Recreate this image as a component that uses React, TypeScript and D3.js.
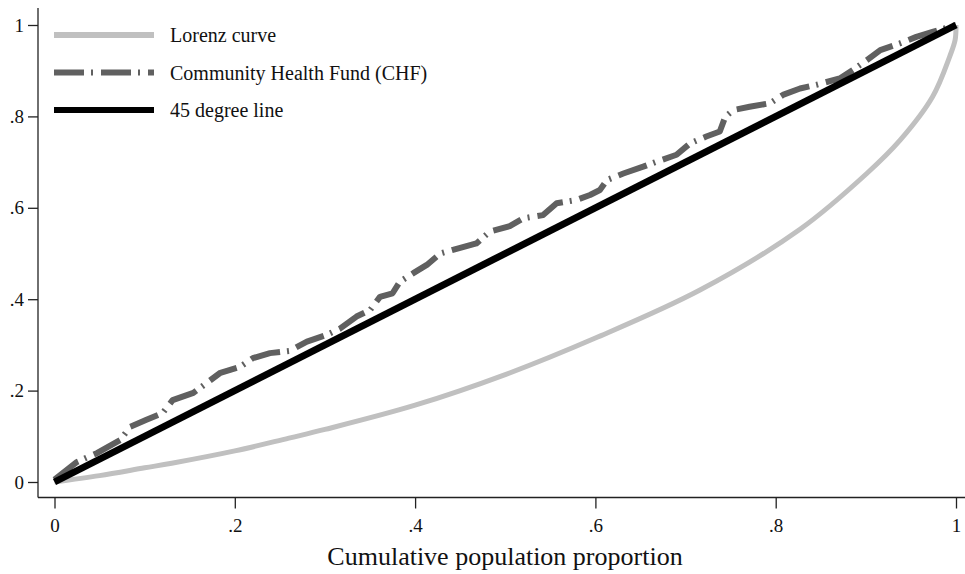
import { RefObject, useEffect, useRef } from "react";
import * as d3 from "d3";

const WIDTH = 965;
const HEIGHT = 574;

// Lorenz curve
const lorenzX = [0, 0.05, 0.1, 0.13, 0.2, 0.26, 0.3, 0.4, 0.5, 0.6, 0.716, 0.827, 0.901, 0.938, 0.974, 0.993, 0.999, 1];
const lorenzY = [0, 0.014, 0.031, 0.041, 0.068, 0.096, 0.115, 0.168, 0.235, 0.315, 0.42, 0.553, 0.675, 0.748, 0.843, 0.931, 0.967, 1];

// Community Health Fund concentration curve
const chfX = [
  0, 0.025, 0.047, 0.073, 0.084, 0.102, 0.12, 0.131, 0.154, 0.184, 0.206, 0.22, 0.239, 0.261, 0.28, 0.302,
  0.317, 0.335, 0.35, 0.361, 0.375, 0.383, 0.398, 0.413, 0.428, 0.442, 0.468, 0.483, 0.505, 0.52, 0.542,
  0.557, 0.579, 0.594, 0.605, 0.613, 0.631, 0.653, 0.668, 0.69, 0.705, 0.723, 0.738, 0.744, 0.753, 0.771,
  0.794, 0.808, 0.827, 0.845, 0.871, 0.886, 0.901, 0.916, 0.938, 0.956, 0.974, 1,
];
const chfY = [
  0.005, 0.044, 0.063, 0.092, 0.121, 0.136, 0.151, 0.179, 0.195, 0.239, 0.252, 0.271, 0.282, 0.287, 0.307, 0.322,
  0.336, 0.362, 0.376, 0.405, 0.413, 0.438, 0.457, 0.475, 0.5, 0.508, 0.522, 0.548, 0.56, 0.577, 0.584,
  0.61, 0.617, 0.628, 0.639, 0.661, 0.675, 0.69, 0.701, 0.716, 0.741, 0.756, 0.767, 0.799, 0.814, 0.821,
  0.829, 0.847, 0.861, 0.869, 0.883, 0.902, 0.923, 0.945, 0.96, 0.974, 0.985, 1,
];

const diagX = [0, 1];
const diagY = [0, 1];

const tickValues = [0, 0.2, 0.4, 0.6, 0.8, 1];
const legendLabels = ["Lorenz curve", "Community Health Fund (CHF)", "45 degree line"];

const FONT = "'Liberation Serif', 'Times New Roman', serif";
const fmt = (d: number) => (d === 0 ? "0" : d === 1 ? "1" : String(+d.toFixed(1)).replace("0.", "."));

const series = [
  { xs: lorenzX, ys: lorenzY, color: "#c0c0c0", width: 5, dash: null, legendWidth: 6, curve: d3.curveCatmullRom.alpha(0.5) },
  { xs: chfX, ys: chfY, color: "#606060", width: 6, dash: "30 7 2 8", legendWidth: 6, curve: d3.curveLinear },
  { xs: diagX, ys: diagY, color: "#000000", width: 7, dash: null, legendWidth: 6, curve: d3.curveLinear },
];

export default function App() {
  const svgRef: RefObject<SVGSVGElement> = useRef(null);

  useEffect(() => {
    const svg = d3.select(svgRef.current);
    svg.selectAll("*").remove();

    const x = d3.scaleLinear().domain([0, 1]).range([54.5, 956]);
    const y = d3.scaleLinear().domain([0, 1]).range([482, 25]);

    // axis lines
    svg.append("line").attr("x1", 38).attr("x2", 38).attr("y1", 8).attr("y2", 497.5)
      .attr("stroke", "#222").attr("stroke-width", 1.3);
    svg.append("line").attr("x1", 38).attr("x2", WIDTH).attr("y1", 497.5).attr("y2", 497.5)
      .attr("stroke", "#222").attr("stroke-width", 1.3);

    const xAxis = svg.append("g").attr("transform", "translate(0,497.5)")
      .call(d3.axisBottom(x).tickValues(tickValues).tickSize(11).tickPadding(10).tickFormat((d: any) => fmt(d)));
    xAxis.select(".domain").remove();
    xAxis.selectAll("line").attr("stroke", "#222").attr("stroke-width", 1.3);
    xAxis.selectAll("text").attr("font-family", FONT).attr("font-size", 19).attr("fill", "#111");

    const yAxis = svg.append("g").attr("transform", "translate(38,0)")
      .call(d3.axisLeft(y).tickValues(tickValues).tickSize(10).tickPadding(4).tickFormat((d: any) => fmt(d)));
    yAxis.select(".domain").remove();
    yAxis.selectAll("line").attr("stroke", "#222").attr("stroke-width", 1.3);
    yAxis.selectAll("text").attr("font-family", FONT).attr("font-size", 19).attr("fill", "#111");

    // curves
    series.forEach((s) => {
      const pts = s.xs.map((v, i) => [v, s.ys[i]] as [number, number]);
      const line = d3.line<[number, number]>().x((d) => x(d[0])).y((d) => y(d[1])).curve(s.curve);
      svg.append("path").attr("d", line(pts)).attr("fill", "none")
        .attr("stroke", s.color).attr("stroke-width", s.width)
        .attr("stroke-dasharray", s.dash).attr("stroke-linejoin", "round");
    });

    // legend
    const legend = svg.append("g");
    series.forEach((s, i) => {
      const ly = 35 + i * 37.5;
      legend.append("line").attr("x1", 54).attr("x2", 154).attr("y1", ly).attr("y2", ly)
        .attr("stroke", s.color).attr("stroke-width", s.legendWidth).attr("stroke-dasharray", s.dash);
      legend.append("text").attr("x", 170).attr("y", ly + 7).text(legendLabels[i])
        .attr("font-family", FONT).attr("font-size", 20).attr("fill", "#111");
    });

    svg.append("text").attr("x", 505).attr("y", 565).attr("text-anchor", "middle")
      .attr("font-family", FONT).attr("font-size", 26).attr("fill", "#111")
      .text("Cumulative population proportion");
  }, []);

  return (
    <svg
      ref={svgRef}
      width={WIDTH}
      height={HEIGHT}
      style={{ position: "absolute", left: 0, top: 0, background: "#fff" }}
    />
  );
}
